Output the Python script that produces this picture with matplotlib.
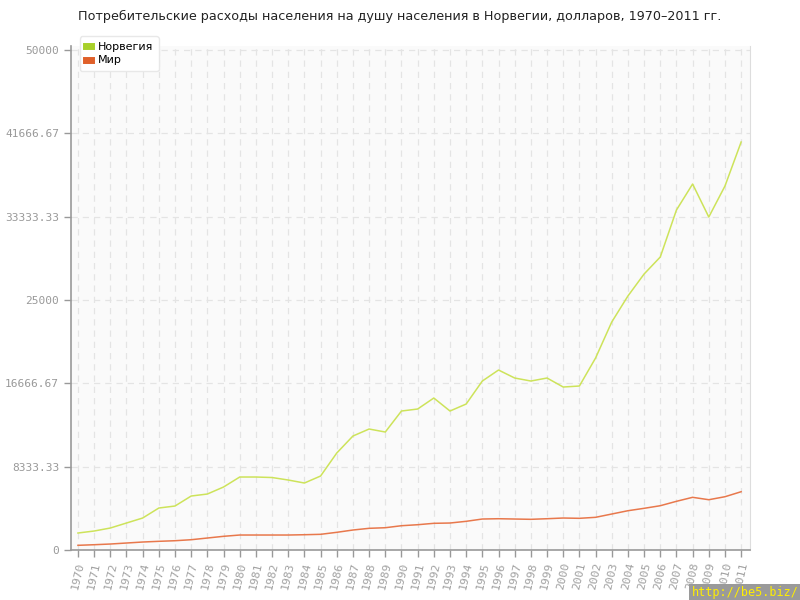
import matplotlib
matplotlib.use("Agg")
import matplotlib.pyplot as plt

# data
years = list(range(1970, 2012))
norway = [1700, 1900, 2200, 2700, 3200, 4200, 4400, 5400, 5600, 6300,
          7300, 7300, 7250, 7000, 6700, 7400, 9700, 11400, 12100, 11800,
          13900, 14100, 15200, 13900, 14600, 16900, 18000, 17200, 16900, 17200,
          16300, 16400, 19200, 22800, 25400, 27600, 29300, 34000, 36600, 33300,
          36400, 40800]
world = [470, 530, 600, 700, 800, 870, 930, 1030, 1200, 1370,
         1500, 1500, 1500, 1500, 1530, 1570, 1770, 2000, 2170, 2230,
         2430, 2530, 2670, 2700, 2870, 3100, 3130, 3100, 3070, 3130,
         3200, 3170, 3270, 3600, 3930, 4170, 4430, 4870, 5270, 5030,
         5330, 5830]
y_ticks = [0, 8333.33, 16666.67, 25000, 33333.33, 41666.67, 50000]
y_labels = ["0", "8333.33", "16666.67", "25000", "33333.33", "41666.67", "50000"]

title = "Потребительские расходы населения на душу населения в Норвегии, долларов, 1970–2011 гг."

fig = plt.figure(figsize=(8, 6), dpi=100)
ax = fig.add_axes([0.08875, 0.0833, 0.849, 0.84])
ax.set_facecolor("#fafafa")

ax.plot(years, norway, color="#cde35a", lw=1.1, label="Норвегия")
ax.plot(years, world, color="#e8784c", lw=1.1, label="Мир")

ax.set_xlim(1969.57, 2011.56)
ax.set_ylim(0, 50000 * (0.84 * 600) / 500)
ax.set_xticks(years)
ax.set_xticklabels([str(y) for y in years], rotation=77, fontsize=8.2,
                   family="DejaVu Sans Mono", color="#a0a0a0")
ax.set_yticks(y_ticks)
ax.set_yticklabels(y_labels, fontsize=8, family="DejaVu Sans Mono", color="#999999")
ax.tick_params(axis="both", colors="#999999", length=5, width=1)
ax.tick_params(axis="x", labelcolor="#a0a0a0", pad=3)

ax.grid(True, color="#e4e4e4", linestyle=(0, (5, 4)), lw=0.9)
ax.set_axisbelow(True)

for side in ["left", "bottom"]:
    ax.spines[side].set_color("#999999")
    ax.spines[side].set_linewidth(1.2)
ax.spines["top"].set_visible(False)
ax.spines["right"].set_color("#dddddd")

leg = ax.legend(loc="upper left", bbox_to_anchor=(0.005, 1.03), fontsize=8,
                handlelength=0.5, handleheight=0.5, handletextpad=0.6,
                labelspacing=0.3, frameon=True, fancybox=True, shadow=False,
                borderpad=0.5)
leg.get_frame().set_edgecolor("#e8e8e8")
leg.get_frame().set_facecolor("white")
leg.get_frame().set_alpha(1)
for h, c in zip(leg.legend_handles, ["#a8d02a", "#e0602a"]):
    h.set_linewidth(5)
    h.set_color(c)

fig.text(0.5, 0.972, title, ha="center", va="center", fontsize=9.2, color="#222222")

fig.text(0.998, 0.012, "http://be5.biz/", ha="right", va="center", fontsize=8.5,
         family="DejaVu Sans Mono", color="#ffee00",
         bbox=dict(facecolor="#9a9a9a", edgecolor="none", pad=1.5))

fig.savefig("out.png", dpi=100)
